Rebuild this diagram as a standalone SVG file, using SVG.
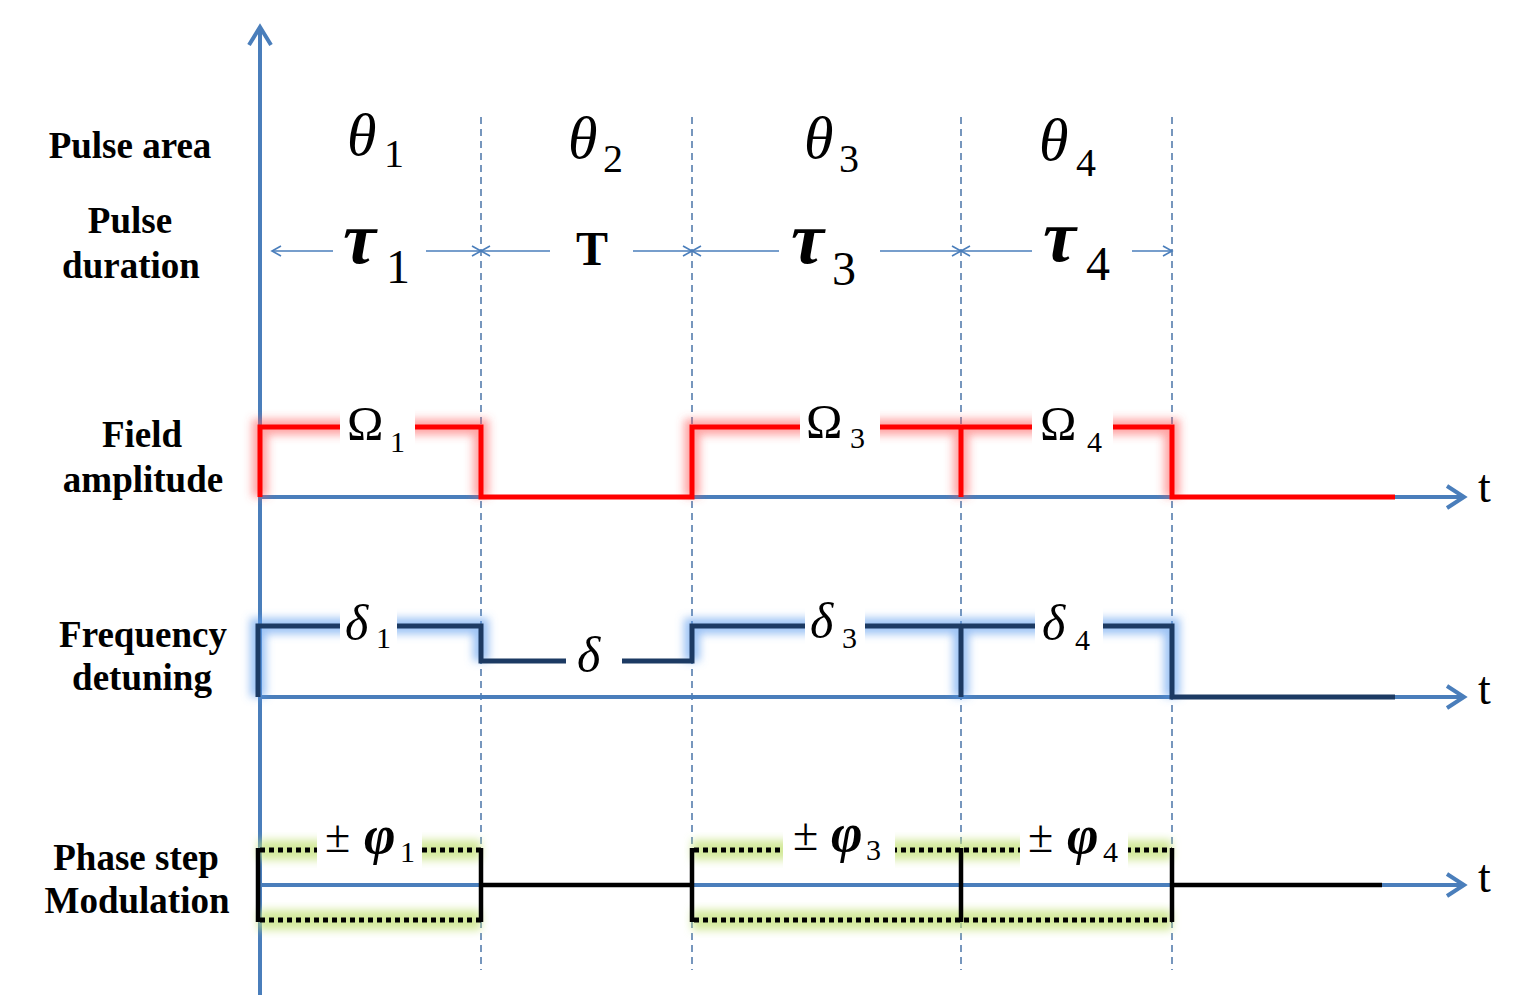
<svg xmlns="http://www.w3.org/2000/svg" width="1525" height="997" viewBox="0 0 1525 997">
<style>
.lbl{font-family:"Liberation Serif","Times New Roman",serif;font-weight:bold;font-size:37px;fill:#000;text-anchor:middle}
.g{font-family:"Liberation Serif","Times New Roman",serif;fill:#000}
.it{font-style:italic}
.bi{font-style:italic;font-weight:bold}
.axis{stroke:#4A7EBB;stroke-width:4;fill:none}
.dash{stroke:#4A74A8;stroke-width:1.5;stroke-dasharray:7 5;fill:none}
.dur{stroke:#4A7EBB;stroke-width:1.6;fill:none}
.red{stroke:#FF0000;stroke-width:5;fill:none}
.navy{stroke:#1C3A63;stroke-width:5;fill:none}
.blk{stroke:#000;stroke-width:4.5;fill:none}
.dot{stroke:#000;stroke-width:5;stroke-dasharray:5 4;fill:none}
.gr{stroke:#FF5A5A;stroke-width:16;fill:none;opacity:0.55}
.gb{stroke:#5B9BEF;stroke-width:16;fill:none;opacity:0.6}
.gg{stroke:#C6E27A;stroke-width:20;fill:none;opacity:0.75}
.mask{fill:#fff}
</style>
<defs>
<filter id="blur" x="-10%" y="-30%" width="120%" height="160%"><feGaussianBlur stdDeviation="4"/></filter>
<marker id="open" viewBox="0 0 12 12" refX="10" refY="6" markerWidth="12" markerHeight="12" markerUnits="userSpaceOnUse" orient="auto-start-reverse"><path d="M1,1 L10,6 L1,11" fill="none" stroke="#4A7EBB" stroke-width="1.6"/></marker>
</defs>
<rect width="1525" height="997" fill="#fff"/>

<g id="dashed-guides">
<path class="dash" d="M481,117 V970 M692,117 V970 M961,117 V970 M1172,117 V970"/>
</g>

<g id="axes">
<path class="axis" d="M260,995 V27"/>
<path class="axis" d="M249,45 L260,27 L271,45"/>
<path class="axis" d="M260,497 H1463"/>
<path class="axis" d="M1447,486 L1464,497 L1447,508"/>
<path class="axis" d="M260,697 H1463"/>
<path class="axis" d="M1447,686 L1464,697 L1447,708"/>
<path class="axis" d="M258,885 H1463"/>
<path class="axis" d="M1447,874 L1464,885 L1447,896"/>
<text class="g" x="1478" y="502" font-size="46">t</text>
<text class="g" x="1478" y="704" font-size="46">t</text>
<text class="g" x="1478" y="892" font-size="46">t</text>
</g>

<g id="row-labels">
<text class="lbl" x="130" y="158">Pulse area</text>
<text class="lbl" x="130" y="233">Pulse</text>
<text class="lbl" x="131" y="278">duration</text>
<text class="lbl" x="142" y="447">Field</text>
<text class="lbl" x="143" y="492">amplitude</text>
<text class="lbl" x="143" y="647">Frequency</text>
<text class="lbl" x="142" y="690">detuning</text>
<text class="lbl" x="136" y="870">Phase step</text>
<text class="lbl" x="137" y="913">Modulation</text>
</g>

<g id="pulse-area">
<text class="g it" x="347" y="155" font-size="60">θ</text><text class="g" x="384" y="167" font-size="40">1</text>
<text class="g it" x="568" y="158" font-size="60">θ</text><text class="g" x="603" y="172" font-size="40">2</text>
<text class="g it" x="804" y="158" font-size="60">θ</text><text class="g" x="839" y="172" font-size="40">3</text>
<text class="g it" x="1039" y="160" font-size="60">θ</text><text class="g" x="1076" y="176" font-size="40">4</text>
</g>

<g id="connectors">
<path class="dur" marker-start="url(#open)" d="M272,251 H333"/>
<path class="dur" marker-end="url(#open)" d="M426,251 H481"/>
<path class="dur" marker-start="url(#open)" d="M481,251 H550"/>
<path class="dur" marker-end="url(#open)" d="M633,251 H692"/>
<path class="dur" marker-start="url(#open)" d="M692,251 H779"/>
<path class="dur" marker-end="url(#open)" d="M880,251 H961"/>
<path class="dur" marker-start="url(#open)" d="M961,251 H1032"/>
<path class="dur" marker-end="url(#open)" d="M1132,251 H1172"/>
</g>

<g id="durations">
<text class="g bi" x="343" y="263" font-size="74">τ</text><text class="g" x="386" y="283" font-size="48">1</text>
<text class="g" x="576" y="265" font-size="48" font-weight="bold">T</text>
<text class="g bi" x="791" y="263" font-size="74">τ</text><text class="g" x="832" y="285" font-size="48">3</text>
<text class="g bi" x="1043" y="261" font-size="74">τ</text><text class="g" x="1086" y="280" font-size="48">4</text>
</g>

<g id="field-amplitude">
<g filter="url(#blur)">
<path class="gr" d="M260,497 V427 H481 V497 M692,497 V427 H961 V497 M961,497 V427 H1172 V497"/>
</g>
<path class="red" d="M260,497 V427 H481 V497 H692 V427 H961 V497 V427 H1172 V497 H1395"/>
<rect class="mask" x="340" y="398" width="75" height="56"/>
<rect class="mask" x="800" y="398" width="80" height="56"/>
<rect class="mask" x="1032" y="398" width="81" height="56"/>
<text class="g" x="347" y="440" font-size="49">Ω</text><text class="g" x="390" y="452" font-size="30">1</text>
<text class="g" x="806" y="438" font-size="49">Ω</text><text class="g" x="850" y="448" font-size="30">3</text>
<text class="g" x="1040" y="440" font-size="49">Ω</text><text class="g" x="1087" y="452" font-size="30">4</text>
</g>

<g id="frequency-detuning">
<g filter="url(#blur)">
<path class="gb" d="M258,697 V626 H481 V661 M692,661 V626 H961 V697 M961,697 V626 H1172 V697"/>
</g>
<path class="navy" d="M258,697 V626 H481 V661 H692 V626 H961 V697 V626 H1172 V697 H1395"/>
<rect class="mask" x="340" y="598" width="57" height="56"/>
<rect class="mask" x="566" y="636" width="56" height="45"/>
<rect class="mask" x="805" y="598" width="60" height="56"/>
<rect class="mask" x="1035" y="598" width="68" height="56"/>
<text class="g it" x="345" y="640" font-size="50">δ</text><text class="g" x="376" y="648" font-size="30">1</text>
<text class="g it" x="577" y="672" font-size="50">δ</text>
<text class="g it" x="810" y="638" font-size="50">δ</text><text class="g" x="842" y="648" font-size="30">3</text>
<text class="g it" x="1042" y="640" font-size="50">δ</text><text class="g" x="1075" y="650" font-size="30">4</text>
</g>

<g id="phase-step">
<g filter="url(#blur)">
<path class="gg" d="M258,850 H481 M258,920 H481 M692,850 H1172 M692,920 H1172"/>
</g>
<path class="dot" d="M260,850 H481 M260,920 H481 M694,850 H1172 M694,920 H1172"/>
<path class="blk" d="M258,848 V922 M481,848 V922 M692,848 V922 M961,848 V922 M1172,848 V922 M481,885 H692 M1172,885 H1382"/>
<rect class="mask" x="317" y="812" width="105" height="56"/>
<rect class="mask" x="783" y="812" width="112" height="56"/>
<rect class="mask" x="1020" y="812" width="108" height="56"/>
<text class="g" x="325" y="852" font-size="46">±</text><text class="g bi" x="364" y="853" font-size="54">φ</text><text class="g" x="400" y="862" font-size="30">1</text>
<text class="g" x="793" y="850" font-size="46">±</text><text class="g bi" x="831" y="851" font-size="54">φ</text><text class="g" x="866" y="860" font-size="30">3</text>
<text class="g" x="1028" y="852" font-size="46">±</text><text class="g bi" x="1067" y="853" font-size="54">φ</text><text class="g" x="1103" y="862" font-size="30">4</text>
</g>
</svg>
